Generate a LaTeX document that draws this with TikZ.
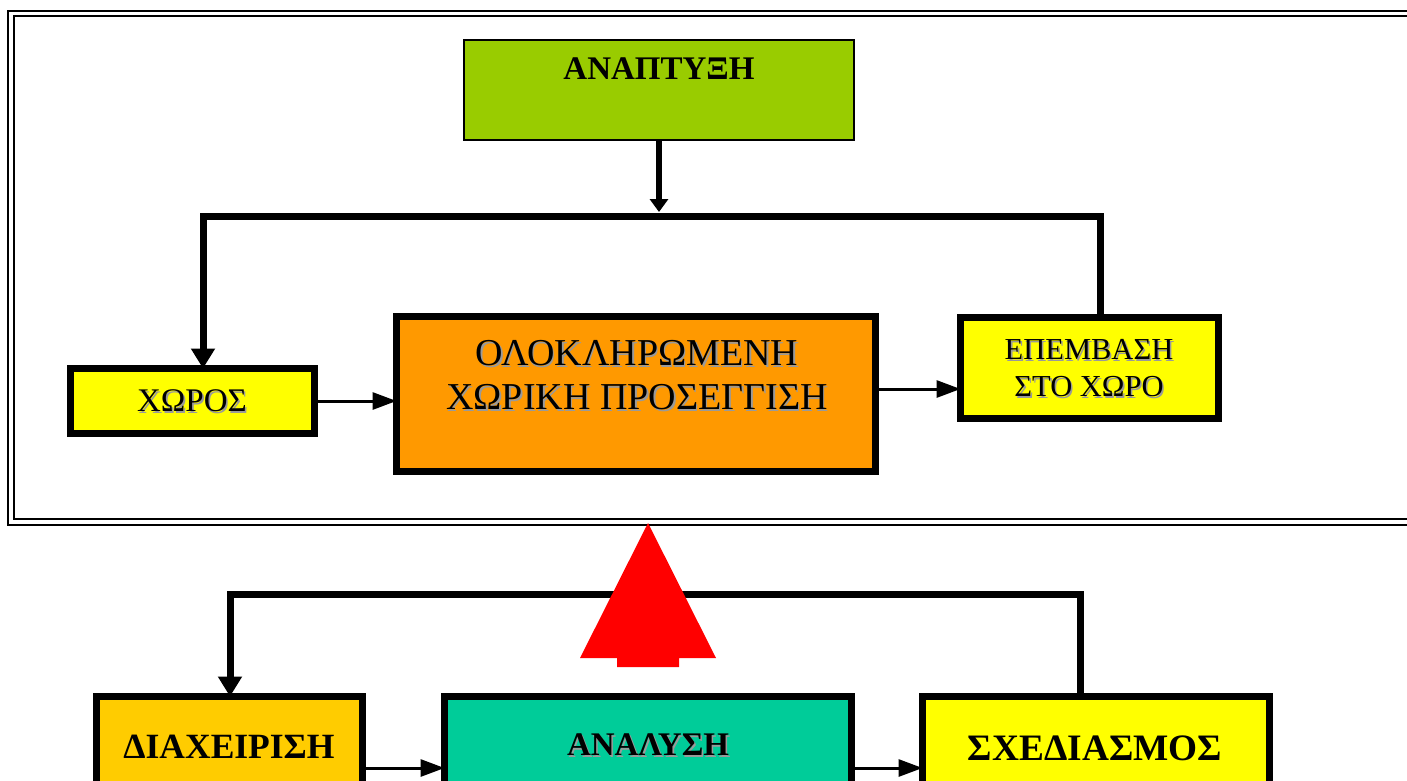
\documentclass[tikz,border=0pt]{standalone}
\usepackage{fontspec}
\setmainfont{Liberation Serif}
\usetikzlibrary{arrows.meta}
\definecolor{cgreen}{HTML}{99CC00}
\definecolor{cyel}{HTML}{FFFF00}
\definecolor{corange}{HTML}{FF9900}
\definecolor{cgold}{HTML}{FFCC00}
\definecolor{cteal}{HTML}{00CC99}
\definecolor{cred}{HTML}{FF0000}
\definecolor{cshadow}{HTML}{9A9A9A}
\newcommand\shd[1]{\makebox[0pt][l]{\hspace{1.6pt}\raisebox{-1.6pt}[0pt][0pt]{\color{cshadow}#1}}#1}
\tikzset{
  box/.style={draw=black, line width=7pt, inner sep=0pt, outer sep=0pt},
  lbl/.style={inner sep=0pt, outer sep=0pt, align=center, text=black},
  bus/.style={line width=7pt, -{Triangle[width=23pt,length=20pt]}},
  thinarrow/.style={line width=3pt, -{Triangle[width=17pt,length=24pt]}},
  framel/.style={draw=black, line width=2pt}
}
\begin{document}
\begin{tikzpicture}[x=1pt,y=-1pt]
\clip (0,0) rectangle (1407,780);
\fill[white] (0,0) rectangle (1407,780);
% double frame
\draw[framel] (7.7,11) rectangle (1425,525);
\draw[framel, line width=2.4pt] (14,16) rectangle (1418,519);
% boxes
\node[box, line width=2pt, fill=cgreen, minimum width=390pt, minimum height=100pt] (anap) at (659,90) {};
\node[box, fill=cyel, minimum width=244pt, minimum height=65pt] (xoros) at (192.5,401) {};
\node[box, fill=corange, minimum width=479pt, minimum height=155pt] (olok) at (636,394) {};
\node[box, fill=cyel, minimum width=258pt, minimum height=101pt] (epem) at (1089.5,368) {};
\node[box, fill=cgold, minimum width=266pt, minimum height=107pt] (diax) at (229.5,750) {};
\node[box, fill=cteal, minimum width=407pt, minimum height=107pt] (anal) at (648,750) {};
\node[box, fill=cyel, minimum width=347pt, minimum height=107pt] (sxed) at (1096,750) {};
% labels
\node[lbl, font=\fontsize{33}{38}\selectfont\bfseries] (anap-t) at (659,69) {ΑΝΑΠΤΥΞΗ};
\node[lbl, font=\fontsize{33}{38}\selectfont] (xoros-t) at (192,401) {\shd{ΧΩΡΟΣ}};
\node[lbl, font=\fontsize{38}{44}\selectfont] (olok-t) at (637,375) {\shd{ΟΛΟΚΛΗΡΩΜΕΝΗ}\\\shd{ΧΩΡΙΚΗ ΠΡΟΣΕΓΓΙΣΗ}};
\node[lbl, font=\fontsize{30.5}{37}\selectfont] (epem-t) at (1089,368.5) {\shd{ΕΠΕΜΒΑΣΗ}\\\shd{ΣΤΟ ΧΩΡΟ}};
\node[lbl, font=\fontsize{35.5}{40}\selectfont\bfseries] (diax-t) at (229,747) {ΔΙΑΧΕΙΡΙΣΗ};
\node[lbl, font=\fontsize{33}{38}\selectfont\bfseries] (anal-t) at (648,745) {\shd{ΑΝΑΛΥΣΗ}};
\node[lbl, font=\fontsize{37.3}{42}\selectfont\bfseries] (sxed-t) at (1095,748) {ΣΧΕΔΙΑΣΜΟΣ};
% top connectors
\coordinate (tl) at (203,216);
\coordinate (tr) at (1100,216);
\coordinate (tm) at (659,212);
\draw[line width=6pt, -{Triangle[width=18pt,length=13pt]}] (anap.south) -- (tm);
\draw[bus] (tr |- epem.north) -- (tr) -- (tl) -- (tl |- xoros.north);
\draw[thinarrow] (xoros.east) -- (xoros.east -| olok.west);
\draw[thinarrow] ([yshift=5pt]olok.east) -- ([yshift=5pt]olok.east -| epem.west);
% bottom connectors
\coordinate (bl) at (230,594);
\coordinate (br) at (1080,594);
\draw[bus] (br |- sxed.north) -- (br) -- (bl) -- (bl |- diax.north);
\coordinate (d1) at (366,768);
\draw[thinarrow] (d1 -| diax.east) -- (d1 -| anal.west);
\draw[thinarrow] (d1 -| anal.east) -- (d1 -| sxed.west);
% red arrow
\fill[cred] (648,523) -- (716,658) -- (679,658) -- (679,667) -- (617,667) -- (617,658) -- (580,658) -- cycle;
\end{tikzpicture}
\end{document}
